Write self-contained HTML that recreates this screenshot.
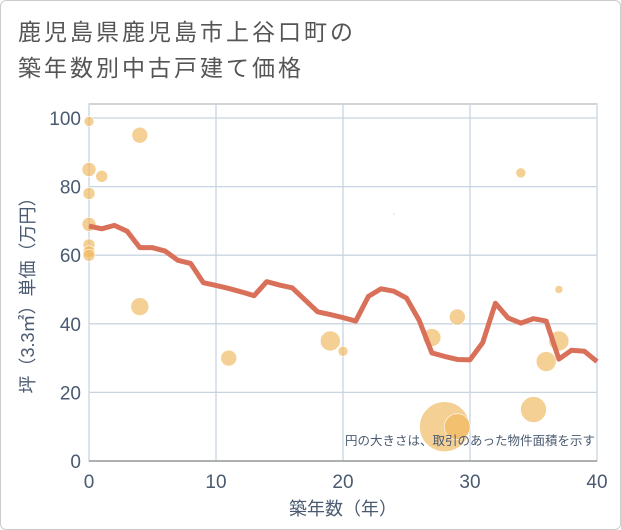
<!DOCTYPE html>
<html><head><meta charset="utf-8"><style>
body{margin:0;background:#fff;}
#wrap{position:relative;width:619px;height:528px;border:1px solid #ccc;border-radius:6px;overflow:hidden;font-family:"Liberation Sans","Noto Sans CJK JP",sans-serif;}
#title{position:absolute;left:17px;top:13px;font-size:23px;line-height:36px;color:#555;letter-spacing:3px;}
svg{position:absolute;left:0;top:0;}
</style></head><body>
<div id="wrap">
<div id="title">鹿児島県鹿児島市上谷口町の<br>築年数別中古戸建て価格</div>
<svg id="chart" width="621" height="530"></svg>
</div>
<script>
const lineYears=[0,1,2,3,4,5,6,7,8,9,10,11,12,13,14,15,16,17,18,19,20,21,22,23,24,25,26,27,28,29,30,31,32,33,34,35,36,37,38,39,40];
const lineValues=[68.5,67.7,68.7,67,62.2,62.2,61.2,58.5,57.6,52,51.2,50.3,49.3,48.2,52.3,51.3,50.5,47,43.5,42.7,41.8,40.8,48,50.2,49.5,47.5,41,31.5,30.5,29.6,29.5,34.5,46,41.7,40.2,41.5,40.8,29.7,32.3,32,29];
const bubbleYears=[0,4,0,1,0,0,0,0,0,4,11,19,20,24,27,29,28,29,34,37,37,36,35];
const bubbleValues=[99,95,85,83,78,69,63,61,60,45,30,35,32,72,36,42,10,10,84,50,35,29,15];
const bubbleSizes=[5,8,7,6,6,7,6,6,6,9,8,10,5,1,9,8,25,13,5,4,10,10,13];
const xTicks=[0,10,20,30,40];
const yTicks=[0,20,40,60,80,100];
const svg=document.getElementById('chart');
const NS='http://www.w3.org/2000/svg';
const X0=88,X1=596,Y0=460,Y1=117;
const xs=v=>X0+(X1-X0)*v/40;
const ys=v=>Y0-(Y0-Y1)*v/100;
function mk(t,a){const e=document.createElementNS(NS,t);for(const k in a)e.setAttribute(k,a[k]);svg.appendChild(e);return e;}
let r=mk('rect',{x:X0,y:103,width:X1-X0,height:Y0-103,fill:'none',stroke:'#aaa','stroke-width':1});


yTicks.forEach(t=>{
 const l=mk('line',{x1:X0,x2:X1,y1:ys(t),y2:ys(t),stroke:'#c8d4e0','stroke-width':1.3});
 
 
 const tx=mk('text',{x:X0-8,y:ys(t)+7,'text-anchor':'end','font-size':19,fill:'#4a5a70'});
 tx.textContent=t;
 
 
});
xTicks.forEach(t=>{
 const l=mk('line',{x1:xs(t),x2:xs(t),y1:103,y2:Y0,stroke:'#c8d4e0','stroke-width':1.3});
 
 
 const tx=mk('text',{x:xs(t),y:Y0+27,'text-anchor':'middle','font-size':19,fill:'#4a5a70'});
 tx.textContent=t;
 
 
});
const ax=mk('line',{x1:X0,x2:X1,y1:Y0,y2:Y0,stroke:'#999','stroke-width':1.5});


bubbleYears.forEach((yr,i)=>{
 const c=mk('circle',{cx:xs(yr),cy:ys(bubbleValues[i]),r:bubbleSizes[i],fill:'#f0b75a','fill-opacity':0.65,stroke:'#fff','stroke-width':0.6});
 
 
});
const p=mk('polyline',{points:lineYears.map((y,i)=>xs(y)+','+ys(lineValues[i])).join(' '),fill:'none',stroke:'#d9705a','stroke-width':5,'stroke-linejoin':'round'});


const note=mk('text',{x:594,y:444,'text-anchor':'end','font-size':12.5,fill:'#4a5a70'});
note.textContent='円の大きさは、取引のあった物件面積を示す';


const xt=mk('text',{x:(X0+X1)/2,y:514,'text-anchor':'middle','font-size':18,fill:'#4a5a70'});
xt.textContent='築年数（年）';


const yt=mk('text',{x:0,y:0,'text-anchor':'middle','font-size':18,fill:'#4a5a70',transform:'translate(33,290) rotate(-90)'});
yt.textContent='坪（3.3㎡）単価（万円）';


</script>
</body></html>
